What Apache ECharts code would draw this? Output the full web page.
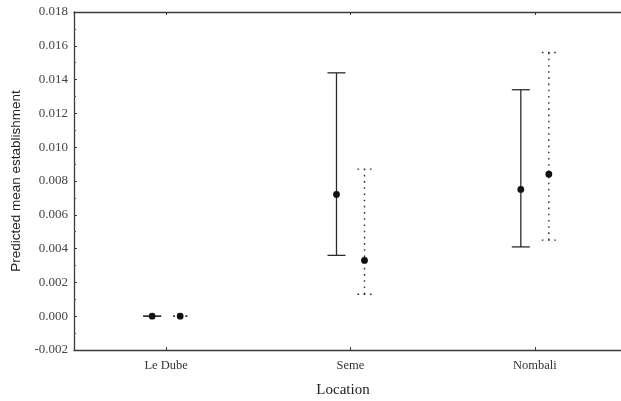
<!DOCTYPE html>
<html>
<head>
<meta charset="utf-8">
<script src="https://cdn.jsdelivr.net/npm/echarts@6/dist/echarts.min.js"></script>
<style>
  html, body { margin: 0; padding: 0; background: #fff; }
  #chart { width: 621px; height: 401px; }
</style>
</head>
<body>
<div id="chart"></div>
<script>
// Locations on the x axis
const categories = ['Le Dube', 'Seme', 'Nombali'];

// First estimate (solid error bars)
const solidMean = [0, 0.0072, 0.0075];
const solidLow  = [0, 0.0036, 0.0041];
const solidHigh = [0, 0.0144, 0.0134];

// Second estimate (dotted error bars)
const dottedMean = [0, 0.0033, 0.0084];
const dottedLow  = [0, 0.0013, 0.0045];
const dottedHigh = [0, 0.0087, 0.0156];

// Y axis range
const yMin = -0.002;
const yMax = 0.018;
const yStep = 0.002;

const FONT = '"Liberation Serif", "DejaVu Serif", serif';
const SANS = '"Liberation Sans", Arial, sans-serif';
const INK = '#2b2b2b';

function buildData(mean, low, high) {
  return categories.map((c, i) => [i, mean[i], low[i], high[i]]);
}

// Draws one error bar (whiskers + caps) with its mean point, shifted inside the band
function makeRenderer(shift, capWidth, dashed) {
  return function (params, api) {
    const idx = api.value(0);
    const band = api.size([1, 0])[0];
    const dx = shift * band;
    const pMean = api.coord([idx, api.value(1)]);
    const pLow = api.coord([idx, api.value(2)]);
    const pHigh = api.coord([idx, api.value(3)]);
    const x = pMean[0] + dx;
    const half = capWidth / 2;
    const lineStyle = {
      stroke: INK,
      lineWidth: dashed ? 1.4 : 1.3,
      lineDash: dashed ? [1.6, 4.6] : null
    };
    return {
      type: 'group',
      children: [
        { type: 'line', shape: { x1: x, y1: pLow[1], x2: x, y2: pHigh[1] }, style: lineStyle },
        { type: 'line', shape: { x1: x - half, y1: pHigh[1], x2: x + half, y2: pHigh[1] }, style: lineStyle },
        { type: 'line', shape: { x1: x - half, y1: pLow[1], x2: x + half, y2: pLow[1] }, style: lineStyle },
        { type: 'circle', shape: { cx: x, cy: pMean[1], r: 3.4 }, style: { fill: '#111' } }
      ]
    };
  };
}

const chart = echarts.init(document.getElementById('chart'), null, { renderer: 'canvas' });

const axisLineStyle = { color: '#3a3a3a', width: 1.3 };

chart.setOption({
  animation: false,
  backgroundColor: '#fff',
  grid: {
    left: 74, right: -6, top: 12, bottom: 51,
    containLabel: false,
    outerBoundsMode: 'none',
    show: false
  },
  xAxis: [
    {
      type: 'category',
      data: categories,
      position: 'bottom',
      name: 'Location',
      nameLocation: 'middle',
      nameGap: 33,
      nameTextStyle: { fontFamily: FONT, fontSize: 15, color: '#222', padding: [0, 0, 0, -15] },
      axisLine: { onZero: false, lineStyle: axisLineStyle },
      axisTick: { show: true, inside: true, alignWithLabel: true, length: 3, lineStyle: { color: '#3a3a3a' } },
      axisLabel: { fontFamily: FONT, fontSize: 12.5, color: '#333', margin: 9 },
      splitLine: { show: false }
    },
    {
      type: 'category',
      data: categories,
      position: 'top',
      axisLine: { onZero: false, lineStyle: axisLineStyle },
      axisTick: { show: true, inside: true, alignWithLabel: true, length: 3, lineStyle: { color: '#3a3a3a' } },
      axisLabel: { show: false },
      splitLine: { show: false }
    }
  ],
  yAxis: {
    type: 'value',
    min: yMin,
    max: yMax,
    interval: yStep,
    name: 'Predicted mean establishment',
    nameLocation: 'middle',
    nameGap: 51,
    nameTextStyle: { fontFamily: SANS, fontSize: 13.5, color: '#222' },
    axisLine: { show: true, onZero: false, lineStyle: axisLineStyle },
    axisTick: { show: true, inside: true, length: 3, lineStyle: { color: '#3a3a3a' } },
    minorTick: { show: true, splitNumber: 2, length: 2, lineStyle: { color: '#555' } },
    axisLabel: {
      fontFamily: FONT, fontSize: 13, color: '#444', margin: 6,
      formatter: v => v.toFixed(3)
    },
    splitLine: { show: false }
  },
  series: [
    {
      name: 'solid',
      type: 'custom',
      xAxisIndex: 0,
      renderItem: makeRenderer(-0.076, 18, false),
      encode: { x: 0, y: [1, 2, 3] },
      data: buildData(solidMean, solidLow, solidHigh),
      z: 3
    },
    {
      name: 'dotted',
      type: 'custom',
      xAxisIndex: 0,
      renderItem: makeRenderer(0.076, 14, true),
      encode: { x: 0, y: [1, 2, 3] },
      data: buildData(dottedMean, dottedLow, dottedHigh),
      z: 3
    }
  ]
});
</script>
</body>
</html>
